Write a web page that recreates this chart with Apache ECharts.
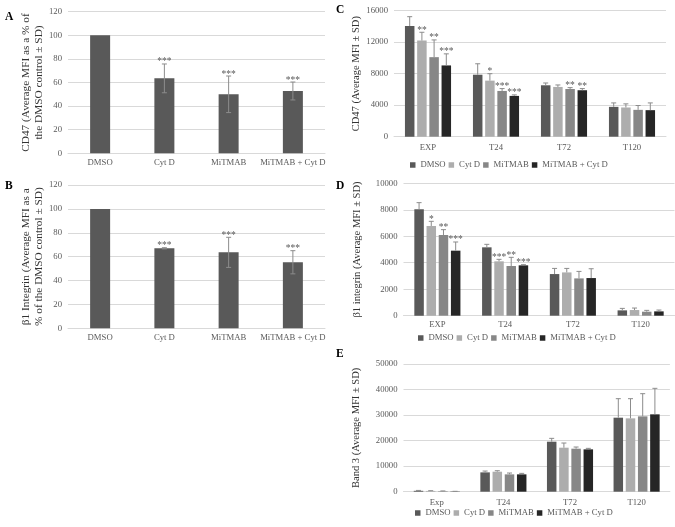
<!DOCTYPE html>
<html><head><meta charset="utf-8">
<script src="https://cdn.jsdelivr.net/npm/echarts@6/dist/echarts.min.js"></script>
<style>html,body{margin:0;padding:0;background:#fff}#c{width:675px;height:527px}</style>
</head><body><div id="c"></div>
<script>
// ---------- DATA ----------
const treatments = ['DMSO', 'Cyt D', 'MiTMAB', 'MiTMAB + Cyt D'];
const timesCD = ['EXP', 'T24', 'T72', 'T120'];
const timesE = ['Exp', 'T24', 'T72', 'T120'];

// Panel A: CD47 as % of DMSO
const valA = [100, 63.5, 50, 52.8];
const sdA = [0, 12.2, 15.5, 7.6];
const starsA = ['', '***', '***', '***'];
// Panel B: beta1 integrin as % of DMSO
const valB = [100, 67, 63.6, 55.3];
const sdB = [0, 0.5, 12.6, 9.7];
const starsB = ['', '***', '***', '***'];

// Panel C: CD47 MFI (per treatment, over EXP,T24,T72,T120)
const cDMSO = [14060, 7870, 6530, 3790];
const cCytD = [12210, 7120, 6320, 3710];
const cMiTMAB = [10100, 5810, 6060, 3410];
const cBoth = [9050, 5180, 5900, 3370];
const cDMSOsd = [1180, 1390, 290, 500];
const cCytDsd = [1050, 880, 250, 460];
const cMiTMABsd = [2190, 300, 170, 550];
const cBothsd = [1470, 130, 210, 920];
const cDMSOstars = ['', '', '', ''];
const cCytDstars = ['**', '*', '', ''];
const cMiTMABstars = ['**', '***', '**', ''];
const cBothstars = ['***', '***', '**', ''];

// Panel D: beta1 integrin MFI
const dDMSO = [8035, 5164, 3145, 403];
const dCytD = [6776, 4106, 3270, 428];
const dMiTMAB = [6096, 3753, 2818, 302];
const dBoth = [4912, 3804, 2843, 327];
const dDMSOsd = [504, 226, 427, 150];
const dCytDsd = [352, 151, 302, 151];
const dMiTMABsd = [403, 655, 528, 101];
const dBothsd = [655, 50, 704, 101];
const dDMSOstars = ['', '', '', ''];
const dCytDstars = ['*', '***', '', ''];
const dMiTMABstars = ['**', '**', '', ''];
const dBothstars = ['***', '***', '', ''];

// Panel E: Band 3 MFI
const eDMSO = [350, 7570, 19580, 28980];
const eCytD = [300, 7830, 17230, 28720];
const eMiTMAB = [200, 6790, 16840, 29500];
const eBoth = [100, 6790, 16580, 30290];
const eDMSOsd = [150, 520, 1310, 7440];
const eCytDsd = [100, 390, 1830, 7700];
const eMiTMABsd = [100, 520, 650, 8880];
const eBothsd = [50, 390, 390, 10180];
const eNoStars = ['', '', '', ''];

// ---------- STYLE ----------
const FONT = '"Liberation Serif", "Times New Roman", serif';
const colors = ['#595959', '#adadad', '#878787', '#262626'];
const txt = '#595959';
const grid = '#d9d9d9';
const errColor = '#8c8c8c';

const grids = [
  {left: 68, top: 11.7, width: 257, height: 141.6},     // A
  {left: 68, top: 185, width: 257, height: 143.3},      // B
  {left: 394, top: 10.7, width: 272, height: 126},      // C
  {left: 403.5, top: 183.3, width: 271, height: 132.4}, // D
  {left: 403.5, top: 364, width: 266.4, height: 127.7}  // E
].map(g => Object.assign({containLabel: false, outerBoundsMode: 'none'}, g));

function yAx(gi, max, interval, name, nameGap, fs) {
  return {
    gridIndex: gi, type: 'value', min: 0, max: max, interval: interval,
    axisLine: {show: false}, axisTick: {show: false},
    splitLine: {lineStyle: {color: grid, width: 1}},
    axisLabel: {fontFamily: FONT, fontSize: 8.7, color: txt, margin: 6, formatter: v => String(v)},
    name: name, nameLocation: 'middle', nameGap: nameGap,
    nameTextStyle: {fontFamily: FONT, fontSize: fs, color: '#333', lineHeight: 12.5}
  };
}
function xAx(gi, cats, margin) {
  return {
    gridIndex: gi, type: 'category', data: cats,
    axisLine: {lineStyle: {color: grid, width: 1}}, axisTick: {show: false},
    axisLabel: {fontFamily: FONT, fontSize: 8.7, color: txt, margin: margin, interval: 0}
  };
}

function errSeries(gi, vals, sds, stars, bw, gapPx, both) {
  const n = vals.length;
  const data = [], starList = [];
  vals.forEach((arr, si) => arr.forEach((v, ci) => {
    data.push([ci, v, sds[si][ci], si]);
    starList.push(stars[si][ci]);
  }));
  return {
    type: 'custom', xAxisIndex: gi, yAxisIndex: gi, z: 5, silent: true,
    encode: {x: 0, y: 1},
    data: data,
    renderItem: function (params, api) {
      const ci = api.value(0), v = api.value(1), sd = api.value(2), si = api.value(3);
      const off = (si - (n - 1) / 2) * (bw + gapPx);
      const p = api.coord([ci, v]);
      const pt = api.coord([ci, v + sd]);
      const pb = api.coord([ci, v - sd]);
      const x = p[0] + off;
      const ch = [];
      const ls = {stroke: errColor, lineWidth: 1};
      if (sd > 0) {
        ch.push({type: 'line', shape: {x1: x, y1: both ? pb[1] : p[1], x2: x, y2: pt[1]}, style: ls});
        ch.push({type: 'line', shape: {x1: x - 2.5, y1: pt[1], x2: x + 2.5, y2: pt[1]}, style: ls});
        if (both) ch.push({type: 'line', shape: {x1: x - 2.5, y1: pb[1], x2: x + 2.5, y2: pb[1]}, style: ls});
      }
      const s = starList[params.dataIndex];
      if (s) {
        ch.push({type: 'text', style: {text: s, x: x, y: pt[1] + 3, align: 'center', verticalAlign: 'bottom',
          fontFamily: FONT, fontSize: 9.5, fill: txt}});
      }
      return {type: 'group', children: ch};
    }
  };
}

const series = [];
// A & B
[[valA, sdA, starsA], [valB, sdB, starsB]].forEach((d, gi) => {
  series.push({type: 'bar', name: 'pct' + gi, xAxisIndex: gi, yAxisIndex: gi, data: d[0], barWidth: 20,
    itemStyle: {color: colors[0]}});
  series.push(errSeries(gi, [d[0]], [d[1]], [d[2]], 20, 0, true));
});
// C, D, E
const BW = 9.5, GAP = 2.7;
const panels = [
  [2, [cDMSO, cCytD, cMiTMAB, cBoth], [cDMSOsd, cCytDsd, cMiTMABsd, cBothsd], [cDMSOstars, cCytDstars, cMiTMABstars, cBothstars]],
  [3, [dDMSO, dCytD, dMiTMAB, dBoth], [dDMSOsd, dCytDsd, dMiTMABsd, dBothsd], [dDMSOstars, dCytDstars, dMiTMABstars, dBothstars]],
  [4, [eDMSO, eCytD, eMiTMAB, eBoth], [eDMSOsd, eCytDsd, eMiTMABsd, eBothsd], [eNoStars, eNoStars, eNoStars, eNoStars]]
];
panels.forEach(([gi, vals, sds, stars]) => {
  vals.forEach((arr, si) => {
    series.push({type: 'bar', name: treatments[si], xAxisIndex: gi, yAxisIndex: gi, data: arr,
      barWidth: BW, barGap: (GAP / BW * 100) + '%', itemStyle: {color: colors[si]}});
  });
  series.push(errSeries(gi, vals, sds, stars, BW, GAP, false));
});

function legendAt(left, top) {
  return {data: treatments, left: left, top: top, padding: 0, icon: 'rect', itemWidth: 5.5, itemHeight: 5.5,
    itemGap: 3, selectedMode: false, textStyle: {fontFamily: FONT, fontSize: 8.7, color: txt}};
}

const letterStyle = {fontFamily: FONT, fontSize: 11.5, fontWeight: 'bold', fill: '#000'};
const option = {
  animation: false,
  backgroundColor: '#fff',
  grid: grids,
  xAxis: [xAx(0, treatments, 5), xAx(1, treatments, 5), xAx(2, timesCD, 7), xAx(3, timesCD, 5), xAx(4, timesE, 7)],
  yAxis: [
    yAx(0, 120, 20, 'CD47 (Average MFI as a % of\nthe DMSO control ± SD)', 22, 11.3),
    yAx(1, 120, 20, 'β1 Integrin (Average MFI as a\n% of the DMSO control ± SD)', 21, 11.3),
    yAx(2, 16000, 4000, 'CD47 (Average MFI ± SD)', 31, 10.5),
    yAx(3, 10000, 2000, 'β1 integrin (Average MFI ± SD)', 40, 10.5),
    yAx(4, 50000, 10000, 'Band 3 (Average MFI ± SD)', 41, 10.5)
  ],
  legend: [legendAt(410, 160.5), legendAt(418, 333.5), legendAt(415, 508.5)],
  graphic: [
    {type: 'text', left: 5, top: 11, style: Object.assign({text: 'A'}, letterStyle)},
    {type: 'text', left: 5, top: 180, style: Object.assign({text: 'B'}, letterStyle)},
    {type: 'text', left: 336, top: 4, style: Object.assign({text: 'C'}, letterStyle)},
    {type: 'text', left: 336, top: 180, style: Object.assign({text: 'D'}, letterStyle)},
    {type: 'text', left: 336, top: 348, style: Object.assign({text: 'E'}, letterStyle)}
  ],
  series: series
};
const chart = echarts.init(document.getElementById('c'), null, {renderer: 'canvas'});
chart.setOption(option);
</script>
</body></html>
